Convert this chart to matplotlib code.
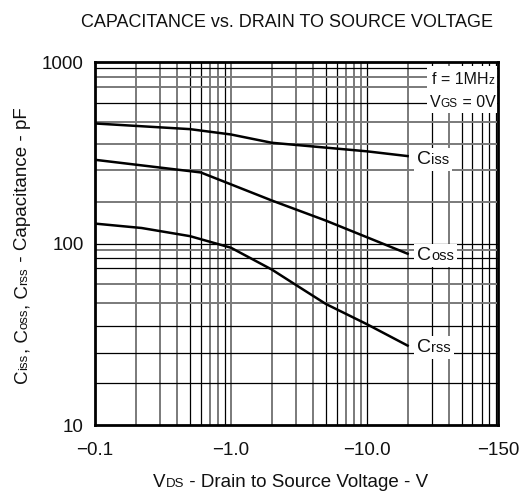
import numpy as np
import matplotlib
matplotlib.use("Agg")
import matplotlib.pyplot as plt
from matplotlib.patches import Rectangle
from matplotlib.transforms import IdentityTransform
from matplotlib.ticker import NullLocator

plt.rcParams["font.family"] = ["Liberation Sans", "DejaVu Sans"]

# --- data (|VDS| in V, capacitance in pF) ---
ciss_v = [0.1, 0.5, 1.0, 2.0, 10.0, 20.0]
ciss_c = [460, 428, 400, 360, 323, 304]

coss_v = [0.1, 0.6, 2.0, 5.0, 20.0]
coss_c = [290, 247, 173, 134, 88]

crss_v = [0.1, 0.22, 0.5, 1.0, 2.0, 3.2, 5.0, 10.0, 20.0]
crss_c = [129, 122, 110, 95, 72, 57.5, 46.5, 36, 27.4]

x_ticks = [0.1, 1.0, 10.0, 93.0]
x_tick_labels = ["\u22120.1", "\u22121.0", "\u221210.0", "\u2212150"]
y_ticks = [10, 100, 1000]
y_tick_labels = ["10", "100", "1000"]

# grid of the datasheet (drawn unevenly in the original)
grid_x = [0.2, 0.3, 0.4, 0.5, 0.6, 0.7, 0.8, 0.9, 1,
          2, 3, 4, 5, 6, 7, 8, 9, 10,
          20, 30, 40, 50, 60, 70, 80, 90]
grid_x_dark = [0, 0, 0, 1, 1, 0, 0, 1, 0,
               0, 0, 0, 1, 1, 0, 0, 0, 1,
               0, 1, 0, 1, 1, 1, 1, 1]
grid_y = [927, 833, 733, 598, 471, 355, 254, 170,
          100, 92, 83, 73, 60, 47, 35, 25, 17]
grid_y_dark = [1, 0, 0, 1, 0, 0, 0, 0,
               1, 0, 1, 1, 0, 0, 1, 1, 1]

DARK = "#000000"
GRAY = "#7a7a7a"
TXT = "#111111"
W, H = 531, 495

fig = plt.figure(figsize=(W / 100, H / 100), dpi=100)
renderer = fig.canvas.get_renderer()


def rich(x, y, pieces, rotation=0):
    """Pieces of different sizes on one baseline; x, y in pixels from the top-left."""
    arts = []
    for txt, size in pieces:
        t = fig.text(x / W, 1 - y / H, txt, rotation=rotation, ha="left", va="baseline",
                     rotation_mode="anchor", fontsize=size, color=TXT, zorder=5)
        arts.append(t)
        bb = t.get_window_extent(renderer)
        if rotation:
            y -= bb.height
        else:
            x += bb.width
    return arts


def white_box(ax, arts, pad=3, right=None, top=None):
    bbs = [a.get_window_extent(renderer) for a in arts]
    x0 = min(b.x0 for b in bbs) - pad
    x1 = max(b.x1 for b in bbs) + pad if right is None else right
    y0 = min(b.y0 for b in bbs) - pad
    y1 = max(b.y1 for b in bbs) + pad if top is None else top
    ax.add_patch(Rectangle((x0, y0), x1 - x0, y1 - y0, transform=IdentityTransform(),
                           fc="white", ec="none", zorder=4))


ax = fig.add_axes([95 / W, 1 - 425 / H, 403.3 / W, 362.7 / H])
ax.set_xscale("log")
ax.set_yscale("log")
ax.set_xlim(0.1, 93)
ax.set_ylim(10, 1000)

for gx, dk in zip(grid_x, grid_x_dark):
    ax.axvline(gx, color=DARK if dk else GRAY, lw=0.9 if dk else 1.4, zorder=1)
for gy, dk in zip(grid_y, grid_y_dark):
    ax.axhline(gy, color=DARK if dk else GRAY, lw=0.9 if dk else 1.4, zorder=1)

for v, c in [(ciss_v, ciss_c), (coss_v, coss_c), (crss_v, crss_c)]:
    ax.plot(v, c, color="black", lw=1.8, zorder=3, solid_joinstyle="round")

ax.xaxis.set_minor_locator(NullLocator())
ax.yaxis.set_minor_locator(NullLocator())
ax.set_xticks(x_ticks)
ax.set_xticklabels(x_tick_labels, fontsize=13.5, color=TXT)
ax.set_yticks(y_ticks)
ax.set_yticklabels(y_tick_labels, fontsize=13.5, color=TXT)
ax.tick_params(axis="x", length=0, pad=12)
ax.tick_params(axis="y", length=0, pad=8)
for sp in ax.spines.values():
    sp.set_linewidth(2.0)
    sp.set_color("black")
    sp.set_zorder(6)

fig.text(287 / W, 1 - 27 / H, "CAPACITANCE vs. DRAIN TO SOURCE VOLTAGE",
         ha="center", va="baseline", fontsize=13, color=TXT)

# axis labels
rich(153, 487, [("V", 13.5), ("DS", 9.5), (" - Drain to Source Voltage - V", 13.5)])
rich(27, 383, [("C", 13.5), ("iss", 9.5), (", C", 13.5), ("oss", 9.5),
               (", C", 13.5), ("rss", 9.5), (" - Capacitance - pF", 13.5)], rotation=90)

# curve labels
for name, yb in [("iss", 164), ("oss", 260), ("rss", 352)]:
    white_box(ax, rich(417, yb, [("C", 14), (name, 10.5)]), pad=3)

# test conditions
l1 = rich(432, 84, [("f = 1MH", 11.5), ("z", 8.5)])
l2 = rich(430, 107, [("V", 11.5), ("GS", 8.5), (" = 0V", 11.5)])
top_px = fig.bbox.height - 66
white_box(ax, l1 + l2, pad=3, right=497, top=top_px)

fig.savefig("out.png", dpi=100)
